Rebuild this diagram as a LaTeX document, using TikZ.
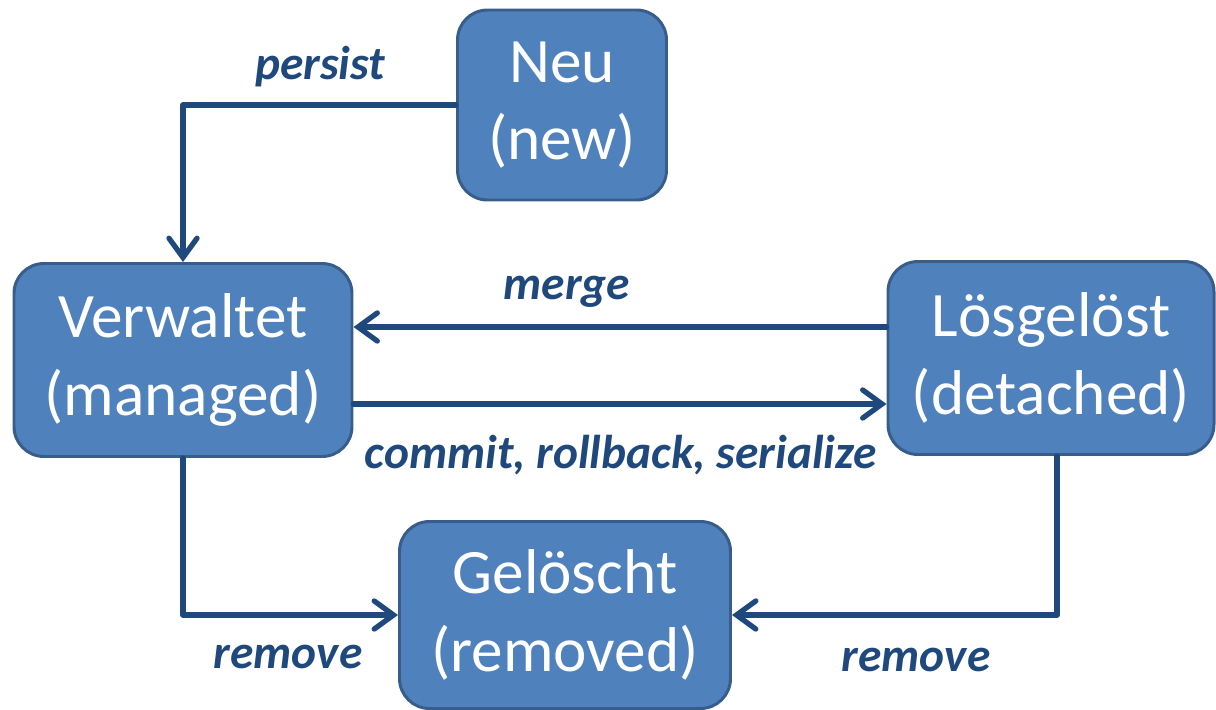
\documentclass[tikz,border=0pt]{standalone}
\usepackage{fontspec}
\setmainfont{Carlito}
\usetikzlibrary{arrows.meta}
\definecolor{boxfill}{HTML}{4F81BD}
\definecolor{boxline}{HTML}{385D8A}
\definecolor{arrblue}{HTML}{1F497D}
\begin{document}
\begin{tikzpicture}
\tikzstyle{state}=[draw=boxline, line width=1.7pt, fill=boxfill, rounded corners=0.6cm,
  text=white, align=center, inner sep=0pt, font=\fontsize{36}{44}\selectfont]
\tikzstyle{arr}=[draw=arrblue, line width=3pt, line cap=round, line join=round,
  -{Straight Barb[length=11pt, width=16pt, line cap=round]}]
\tikzstyle{lbl}=[text=arrblue, font=\fontsize{27}{32}\selectfont\bfseries\itshape]
\useasboundingbox (0,0) rectangle (24.32,-14.2);

\node[state, minimum width=4.18cm, minimum height=3.8cm] (neu) at (11.24,-2.10) {Neu\\(new)};
\node[state, minimum width=6.76cm, minimum height=3.86cm] (verw) at (3.66,-7.20) {Verwaltet\\(managed)};
\node[state, minimum width=6.52cm, minimum height=3.86cm] (los) at (21.02,-7.16) {Lösgelöst\\(detached)};
\node[state, minimum width=6.62cm, minimum height=3.74cm] (gel) at (11.30,-12.30) {Gelöscht\\(removed)};

\draw[arr] (neu.west) -| (verw.north);
\node[lbl] (persist) at (6.40,-1.34) {persist};
\draw[arr] ([yshift=0.62cm]los.west) -- ([yshift=0.62cm]los.west -| verw.east);
\node[lbl] (merge) at (11.34,-5.84) {merge};
\draw[arr] ([yshift=-0.88cm]verw.east) -- ([yshift=-0.88cm]verw.east -| los.west);
\node[lbl] (commit) at (12.42,-9.10) {commit, rollback, serialize};
\draw[arr] (verw.south) |- (gel.west);
\node[lbl] (rem1) at (5.76,-13.14) {remove};
\draw[arr] ([xshift=0.12cm]los.south) |- (gel.east);
\node[lbl] (rem2) at (18.32,-13.20) {remove};
\end{tikzpicture}
\end{document}
